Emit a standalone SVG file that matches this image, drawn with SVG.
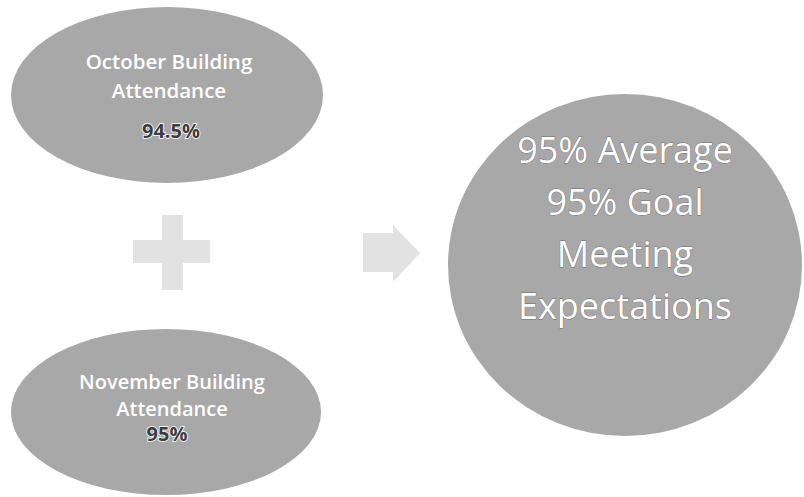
<svg xmlns="http://www.w3.org/2000/svg" width="804" height="497" viewBox="0 0 804 497">
<style>
.shape{fill:#a8a8a8}
.sym{fill:#e2e2e2}
.lbl{font-family:"Open Sans","Liberation Sans",sans-serif;fill:#ffffff;text-anchor:middle}
.small{font-size:20.5px;font-weight:600}
.nov{font-size:20px;font-weight:600}
.pct{font-size:20px;font-weight:700;fill:#3c3c3c;stroke:#ffffff;stroke-width:1.6;paint-order:stroke}
.big{font-size:36px;stroke:#6a6a6a;stroke-width:0.8;paint-order:stroke}
</style>
<rect width="804" height="497" fill="#ffffff"/>
<g id="october">
<ellipse class="shape" cx="167" cy="95" rx="156" ry="88"/>
<text class="lbl small" x="169" y="69">October Building</text>
<text class="lbl small" x="169" y="98">Attendance</text>
<text class="lbl pct" x="171" y="138">94.5%</text>
</g>
<g id="november">
<ellipse class="shape" cx="166" cy="412" rx="155" ry="83"/>
<text class="lbl nov" x="172" y="389">November Building</text>
<text class="lbl nov" x="172" y="416">Attendance</text>
<text class="lbl pct" x="167" y="441">95%</text>
</g>
<g id="plus">
<rect class="sym" x="162" y="215" width="21" height="75"/>
<rect class="sym" x="133" y="240" width="77" height="23"/>
</g>
<g id="connectors">
<polygon class="sym" points="363,233 393,233 393,225 420,253 393,282 393,272 363,272"/>
</g>
<g id="result">
<ellipse class="shape" cx="625" cy="265" rx="177" ry="171"/>
<text class="lbl big" x="625" y="163">95% Average</text>
<text class="lbl big" x="625" y="215">95% Goal</text>
<text class="lbl big" x="625" y="267">Meeting</text>
<text class="lbl big" x="625" y="319">Expectations</text>
</g>
</svg>
